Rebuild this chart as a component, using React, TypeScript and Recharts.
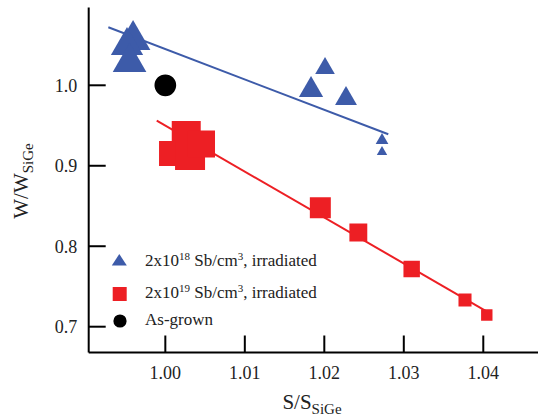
import React from 'react';
import { ScatterChart, Scatter, XAxis, YAxis, ZAxis, Legend } from 'recharts';

// 2x10^18 Sb/cm3, irradiated (triangles)
const triX = [0.99594, 0.99518, 0.9955, 1.01833, 1.02009, 1.02273, 1.02726, 1.02726];
const triY = [1.0563, 1.0492, 1.0286, 0.9942, 1.0211, 0.9833, 0.9316, 0.9171];
const triW = [52, 45, 49, 25.5, 16.7, 20.8, 7, 4.7];

// 2x10^19 Sb/cm3, irradiated (squares)
const sqX = [1.00263, 1.00078, 1.00311, 1.00455, 1.0195, 1.02428, 1.03099, 1.0377, 1.04044];
const sqY = [0.9376, 0.9152, 0.9134, 0.9271, 0.8478, 0.8171, 0.7717, 0.7332, 0.7146];
const sqW = [84, 62.5, 90, 73, 44, 32, 27, 17, 13];

// as-grown
const grownX = [1.0];
const grownY = [1.0];
const grownW = [37];

// linear fits
const blueFitX = [0.99283, 1.02805];
const blueFitY = [1.0721, 0.9391];
const redFitX = [0.99892, 1.04084];
const redFitY = [0.956, 0.7167];

const xTicks = [1.0, 1.01, 1.02, 1.03, 1.04];
const yTicks = [0.7, 0.8, 0.9, 1.0];

const BLUE = '#3d5ba9';
const RED = '#ed1f24';
const FONT = 'Liberation Serif';
const TICK = 17;

const zip = (xs: number[], ys: number[], ws?: number[]) =>
  xs.map((x, i) => ({ x, y: ys[i], w: ws ? ws[i] : 0 }));

const triData = zip(triX, triY, triW);
const sqData = zip(sqX, sqY, sqW);
const grownData = zip(grownX, grownY, grownW);
const blueFit = zip(blueFitX, blueFitY);
const redFit = zip(redFitX, redFitY);

const Nothing = () => <g />;

const BottomTick = (p: any) => (
  <g>
    <line x1={p.x} x2={p.x} y1={p.y} y2={p.y - TICK} stroke="#000" strokeWidth={2} />
    <text x={p.x} y={p.y + 26.5} textAnchor="middle" fontFamily={FONT} fontSize={18} fill="#222">
      {p.payload.value.toFixed(2)}
    </text>
  </g>
);

const TopTick = (p: any) => (
  <line x1={p.x} x2={p.x} y1={p.y} y2={p.y + TICK} stroke="#000" strokeWidth={2} />
);

const LeftTick = (p: any) => (
  <g>
    <line x1={p.x} x2={p.x + TICK} y1={p.y} y2={p.y} stroke="#000" strokeWidth={2} />
    <text x={p.x - 11.5} y={p.y + 6.5} textAnchor="end" fontFamily={FONT} fontSize={18} fill="#222">
      {p.payload.value.toFixed(1)}
    </text>
  </g>
);

const RightTick = (p: any) => (
  <line x1={p.x} x2={p.x - TICK} y1={p.y} y2={p.y} stroke="#000" strokeWidth={2} />
);

const XTitle = () => (
  <text x={312} y={409} textAnchor="middle" fontFamily={FONT} fontSize={21} fill="#222">
    S/S
    <tspan dy={5} fontSize={15}>SiGe</tspan>
  </text>
);

const YTitle = () => (
  <text
    x={28}
    y={181}
    transform="rotate(-90, 28, 181)"
    textAnchor="middle"
    fontFamily={FONT}
    fontSize={21}
    fill="#222"
  >
    W/W
    <tspan dy={5} fontSize={15}>SiGe</tspan>
  </text>
);

// legend rows, top to bottom
const legendOrder = ['tri', 'sq', 'grown'];
const rowBaselines = [266, 298.5, 325];
const iconCenters = [261, 294, 321];

const LegendIcon = ({ type, color, cy }: { type: string; color: string; cy: number }) => {
  if (type === 'triangle') {
    return <polygon points={`119.3,${cy - 7} 111.8,${cy + 4.5} 126.8,${cy + 4.5}`} fill={color} />;
  }
  if (type === 'square') {
    return <rect x={112.7} y={cy - 7} width={14} height={14} fill={color} />;
  }
  return <circle cx={120} cy={cy} r={6.6} fill={color} />;
};

const supStyle: React.CSSProperties = { fontSize: 11, verticalAlign: 'top', position: 'relative', top: -5 };

const legendLabels: Record<string, React.ReactNode> = {
  tri: (
    <>
      2x10<sup style={supStyle}>18</sup> Sb/cm<sup style={supStyle}>3</sup>, irradiated
    </>
  ),
  sq: (
    <>
      2x10<sup style={supStyle}>19</sup> Sb/cm<sup style={supStyle}>3</sup>, irradiated
    </>
  ),
  grown: <>As-grown</>,
};

const renderLegend = (props: any) => {
  const items = (props.payload || [])
    .filter((e: any) => legendOrder.includes(e.value))
    .sort((a: any, b: any) => legendOrder.indexOf(a.value) - legendOrder.indexOf(b.value));
  return (
    <div style={{ position: 'relative', width: 538, height: 0 }}>
      <svg width={538} height={419} style={{ position: 'absolute', left: 0, top: 0, overflow: 'visible' }}>
        {items.map((e: any, i: number) => (
          <LegendIcon key={i} type={e.type} color={e.color} cy={iconCenters[i]} />
        ))}
      </svg>
      {items.map((e: any, i: number) => (
        <div
          key={e.value}
          style={{
            position: 'absolute',
            left: 145,
            top: rowBaselines[i] - 13.4,
            fontFamily: FONT,
            fontSize: 17,
            lineHeight: '16px',
            whiteSpace: 'nowrap',
            color: '#222',
          }}
        >
          {legendLabels[e.value]}
        </div>
      ))}
    </div>
  );
};

const App: React.FC = () => {
  return (
    <div style={{ width: 538, height: 419, overflow: 'hidden', position: 'relative', fontFamily: FONT }}>
      <style>{'body{margin:0;overflow:hidden}'}</style>
      <ScatterChart width={545} height={419} margin={{ top: 7.5, right: 4, bottom: 0, left: 0 }}>
        <XAxis
          xAxisId="b"
          type="number"
          dataKey="x"
          domain={[0.99036, 1.04726]}
          allowDataOverflow
          ticks={xTicks}
          height={66.5}
          tickSize={0}
          tickMargin={0}
          tick={BottomTick}
          axisLine={{ stroke: '#000', strokeWidth: 2 }}
          label={<XTitle />}
        />
        <XAxis
          xAxisId="t"
          orientation="top"
          type="number"
          dataKey="x"
          domain={[0.99036, 1.04726]}
          allowDataOverflow
          ticks={xTicks}
          height={0}
          tickSize={0}
          tickMargin={0}
          tick={TopTick}
          axisLine={{ stroke: '#000', strokeWidth: 2 }}
        />
        <YAxis
          yAxisId="l"
          type="number"
          dataKey="y"
          domain={[0.66794, 1.09668]}
          allowDataOverflow
          ticks={yTicks}
          width={88.7}
          tickSize={0}
          tickMargin={0}
          tick={LeftTick}
          axisLine={{ stroke: '#000', strokeWidth: 2 }}
          label={<YTitle />}
        />
        <YAxis
          yAxisId="r"
          orientation="right"
          type="number"
          dataKey="y"
          domain={[0.66794, 1.09668]}
          allowDataOverflow
          ticks={yTicks}
          width={0}
          tickSize={0}
          tickMargin={0}
          tick={RightTick}
          axisLine={{ stroke: '#000', strokeWidth: 2 }}
        />
        <ZAxis dataKey="w" domain={[0, 100]} range={[0, 1000]} />
        <Legend
          content={renderLegend}
          layout="vertical"
          align="center"
          verticalAlign="middle"
          wrapperStyle={{ position: 'absolute', left: 0, top: 0, width: 538, height: 0 }}
        />
        <Scatter
          xAxisId="b"
          yAxisId="l"
          data={blueFit}
          fill={BLUE}
          line={{ stroke: BLUE, strokeWidth: 2 }}
          shape={Nothing}
          legendType="none"
          isAnimationActive={false}
        />
        <Scatter
          xAxisId="b"
          yAxisId="l"
          data={redFit}
          fill={RED}
          line={{ stroke: RED, strokeWidth: 2 }}
          shape={Nothing}
          legendType="none"
          isAnimationActive={false}
        />
        <Scatter
          name="tri"
          xAxisId="b"
          yAxisId="l"
          data={triData}
          fill={BLUE}
          shape="triangle"
          legendType="triangle"
          isAnimationActive={false}
        />
        <Scatter
          name="sq"
          xAxisId="b"
          yAxisId="l"
          data={sqData}
          fill={RED}
          shape="square"
          legendType="square"
          isAnimationActive={false}
        />
        <Scatter
          name="grown"
          xAxisId="b"
          yAxisId="l"
          data={grownData}
          fill="#000"
          shape="circle"
          legendType="circle"
          isAnimationActive={false}
        />
      </ScatterChart>
    </div>
  );
};

export default App;
